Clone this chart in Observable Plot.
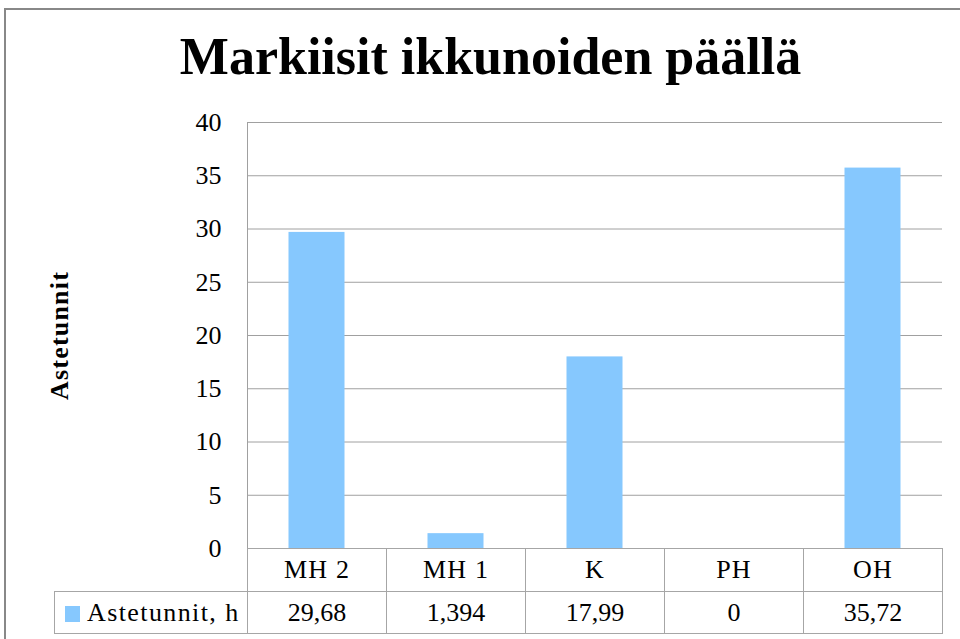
<!DOCTYPE html>
<html>
<head>
<meta charset="utf-8">
<script src="https://cdn.jsdelivr.net/npm/d3@7"></script>
<script src="https://cdn.jsdelivr.net/npm/@observablehq/plot@0.6"></script>
<style>
html,body{margin:0;padding:0;background:#fff;overflow:hidden;width:960px;height:639px}
#wrap{position:relative;width:960px;height:639px;font-family:"Liberation Serif","Times New Roman",serif;color:#000;overflow:hidden}
#border{position:absolute;left:4px;top:8px;width:1000px;height:700px;border:2px solid #888;box-sizing:border-box}
#chart{position:absolute;left:0;top:0}
#title{position:absolute;left:0;top:31px;width:981px;text-align:center;font-size:52px;font-weight:bold;line-height:1;white-space:nowrap}
#tbl{position:absolute;left:54px;top:548px;width:888px;border-collapse:collapse;table-layout:fixed;font-size:26px;font-family:"Liberation Serif","Times New Roman",serif}
#tbl td{border:1px solid #a6a6a6;text-align:center;padding:0;line-height:1}
#tbl tr.r1 td{height:42px}
#tbl tr.r2 td{height:41px}
#tbl td.blank{border:none}
#tbl td.legend{text-align:left;padding-left:10px;letter-spacing:1.4px;white-space:nowrap}
#tbl td.legend span{display:inline-block;width:15px;height:16px;margin-right:7px;vertical-align:-1px}
</style>
</head>
<body>
<div id="wrap">
  <div id="border"></div>
  <div id="chart"></div>
  <div id="title"></div>
  <table id="tbl"></table>
</div>
<script>
const title = "Markiisit ikkunoiden päällä";
const yLabel = "Astetunnit";
const seriesName = "Astetunnit, h";
const categories = ["MH 2", "MH 1", "K", "PH", "OH"];
const values = [29.68, 1.394, 17.99, 0, 35.72];
const valueLabels = ["29,68", "1,394", "17,99", "0", "35,72"];
const yTicks = [0, 5, 10, 15, 20, 25, 30, 35, 40];
const barColor = "#86c8fe";
const gridColor = "#a0a0a0";

const data = categories.map((c, i) => ({cat: c, value: values[i]}));

const chart = Plot.plot({
  width: 960,
  height: 639,
  marginTop: 122,
  marginLeft: 247,
  marginRight: 18,
  marginBottom: 91,
  style: {fontFamily: "Liberation Serif, Times New Roman, serif", fontSize: "26px", color: "#000", background: "none"},
  x: {domain: categories, padding: 0, axis: null},
  y: {domain: [0, 40], axis: null},
  marks: [
    Plot.gridY(yTicks, {stroke: gridColor, strokeOpacity: 1}),
    Plot.frame({anchor: "left", stroke: gridColor}),
    Plot.barY(data, {x: "cat", y: "value", fill: barColor, insetLeft: 41.5, insetRight: 41.5}),
    Plot.axisY(yTicks, {tickSize: 0, tickPadding: 26, fontSize: 26, label: null}),
    Plot.axisX(categories, {tickSize: 0, tickPadding: 11, fontSize: 26, label: null}),
    Plot.text([yLabel], {frameAnchor: "left", textAnchor: "middle", dx: -188, rotate: -90, fontSize: 26, fontWeight: "bold"})
  ]
});
document.getElementById("chart").appendChild(chart);
d3.select(chart).selectAll("text").filter(function() { return this.textContent === yLabel; })
  .style("letter-spacing", "1.2px");
d3.select(chart).selectAll("text").filter(function() { return categories.includes(this.textContent); })
  .style("letter-spacing", "1.2px");

document.getElementById("title").textContent = title;

const tbl = d3.select("#tbl");
const cg = tbl.append("colgroup");
cg.append("col").style("width", "193px");
categories.forEach(() => cg.append("col").style("width", "139px"));
const r1 = tbl.append("tr").attr("class", "r1");
r1.append("td").attr("class", "blank");
categories.forEach(() => r1.append("td"));
const r2 = tbl.append("tr").attr("class", "r2");
const lg = r2.append("td").attr("class", "legend");
lg.append("span").style("background", barColor);
lg.append("text").text(seriesName);
valueLabels.forEach(v => r2.append("td").text(v));
</script>
</body>
</html>
